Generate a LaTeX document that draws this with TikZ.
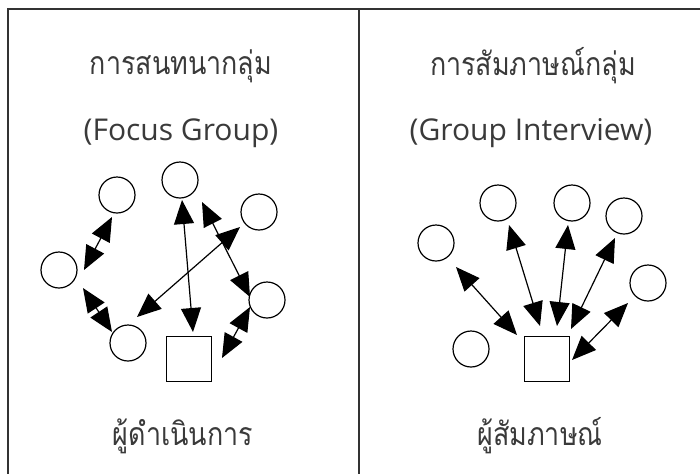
\documentclass[tikz,border=0pt]{standalone}
\usepackage{fontspec}
\setmainfont{Open Sans}
\newfontfamily\thaifont[Script=Thai,FakeStretch=0.84]{Loma}
\usetikzlibrary{arrows.meta,calc}
\definecolor{txt}{HTML}{3A3A3A}
\begin{document}
\begin{tikzpicture}[x=1pt,y=-1pt,
  >={Triangle[length=24pt,width=20pt]},
  person/.style={circle,draw,line width=1.2pt,minimum size=36pt,inner sep=0pt},
  leader/.style={rectangle,draw,line width=1.2pt,minimum size=45pt,inner sep=0pt},
  link/.style={<->,line width=1.2pt},
  frame/.style={line width=1.5pt,draw=black!80},
  thaititle/.style={text=txt,font=\thaifont\fontsize{32}{36}\selectfont,inner sep=0pt},
  subtitle/.style={text=txt,font=\fontsize{30}{34}\selectfont,inner sep=0pt}]
\useasboundingbox (0,0) rectangle (700,474);
\fill[white] (0,0) rectangle (700,474);
\draw[frame] (700,9) -- (8,9) -- (8,474);
\draw[frame] (359,9) -- (359,474);

% left panel
\node[thaititle] (tL) at (181,66) {การสนทนากลุ่ม};
\node[subtitle] (sL) at (181,133) {(Focus Group)};
\node[thaititle] (bL) at (183,436) {ผู้ดำเนินการ};
\node[person] (c1) at (117,195) {};
\node[person] (c2) at (180,180) {};
\node[person] (c3) at (259,212) {};
\node[person] (c4) at (59,270) {};
\node[person] (c5) at (267,300) {};
\node[person] (c6) at (128,343) {};
\node[leader] (sqL) at (189,359) {};
\draw[link] ($(c1)+(-5,22)$) -- ($(c4)+(25,0)$);
\draw[link] ($(c4)+(24,18)$) -- ($(c6)+(-16,-11)$);
\draw[link] ($(c2)+(2,20)$) -- ($(sqL)+(4,-27)$);
\draw[link] ($(c3)+(-19,15)$) -- ($(c6)+(9,-26)$);
\draw[link] ($(c2)+(22,22)$) -- ($(c5)+(-17,-3)$);
\draw[link] ($(c5)+(-17,7)$) -- ($(sqL)+(33,-1)$);

% right panel
\node[thaititle] (tR) at (533,66) {การสัมภาษณ์กลุ่ม};
\node[subtitle] (sR) at (531,133) {(Group Interview)};
\node[thaititle] (bR) at (540,436) {ผู้สัมภาษณ์};
\node[person] (r1) at (436,243) {};
\node[person] (r2) at (498,203) {};
\node[person] (r3) at (572,203) {};
\node[person] (r4) at (624,216) {};
\node[person] (r5) at (648,283) {};
\node[person] (r6) at (471,349) {};
\node[leader] (sqR) at (547,359) {};
\draw[link] ($(r1)+(20,24)$) -- ($(sqR)+(-30,-24)$);
\draw[link] ($(r2)+(11,22)$) -- ($(sqR)+(-7,-33)$);
\draw[link] ($(r3)+(-4,22)$) -- ($(sqR)+(10,-33)$);
\draw[link] ($(r4)+(-9,22)$) -- ($(sqR)+(24,-30)$);
\draw[link] ($(r5)+(-20,20)$) -- ($(sqR)+(25,1)$);
\end{tikzpicture}
\end{document}
